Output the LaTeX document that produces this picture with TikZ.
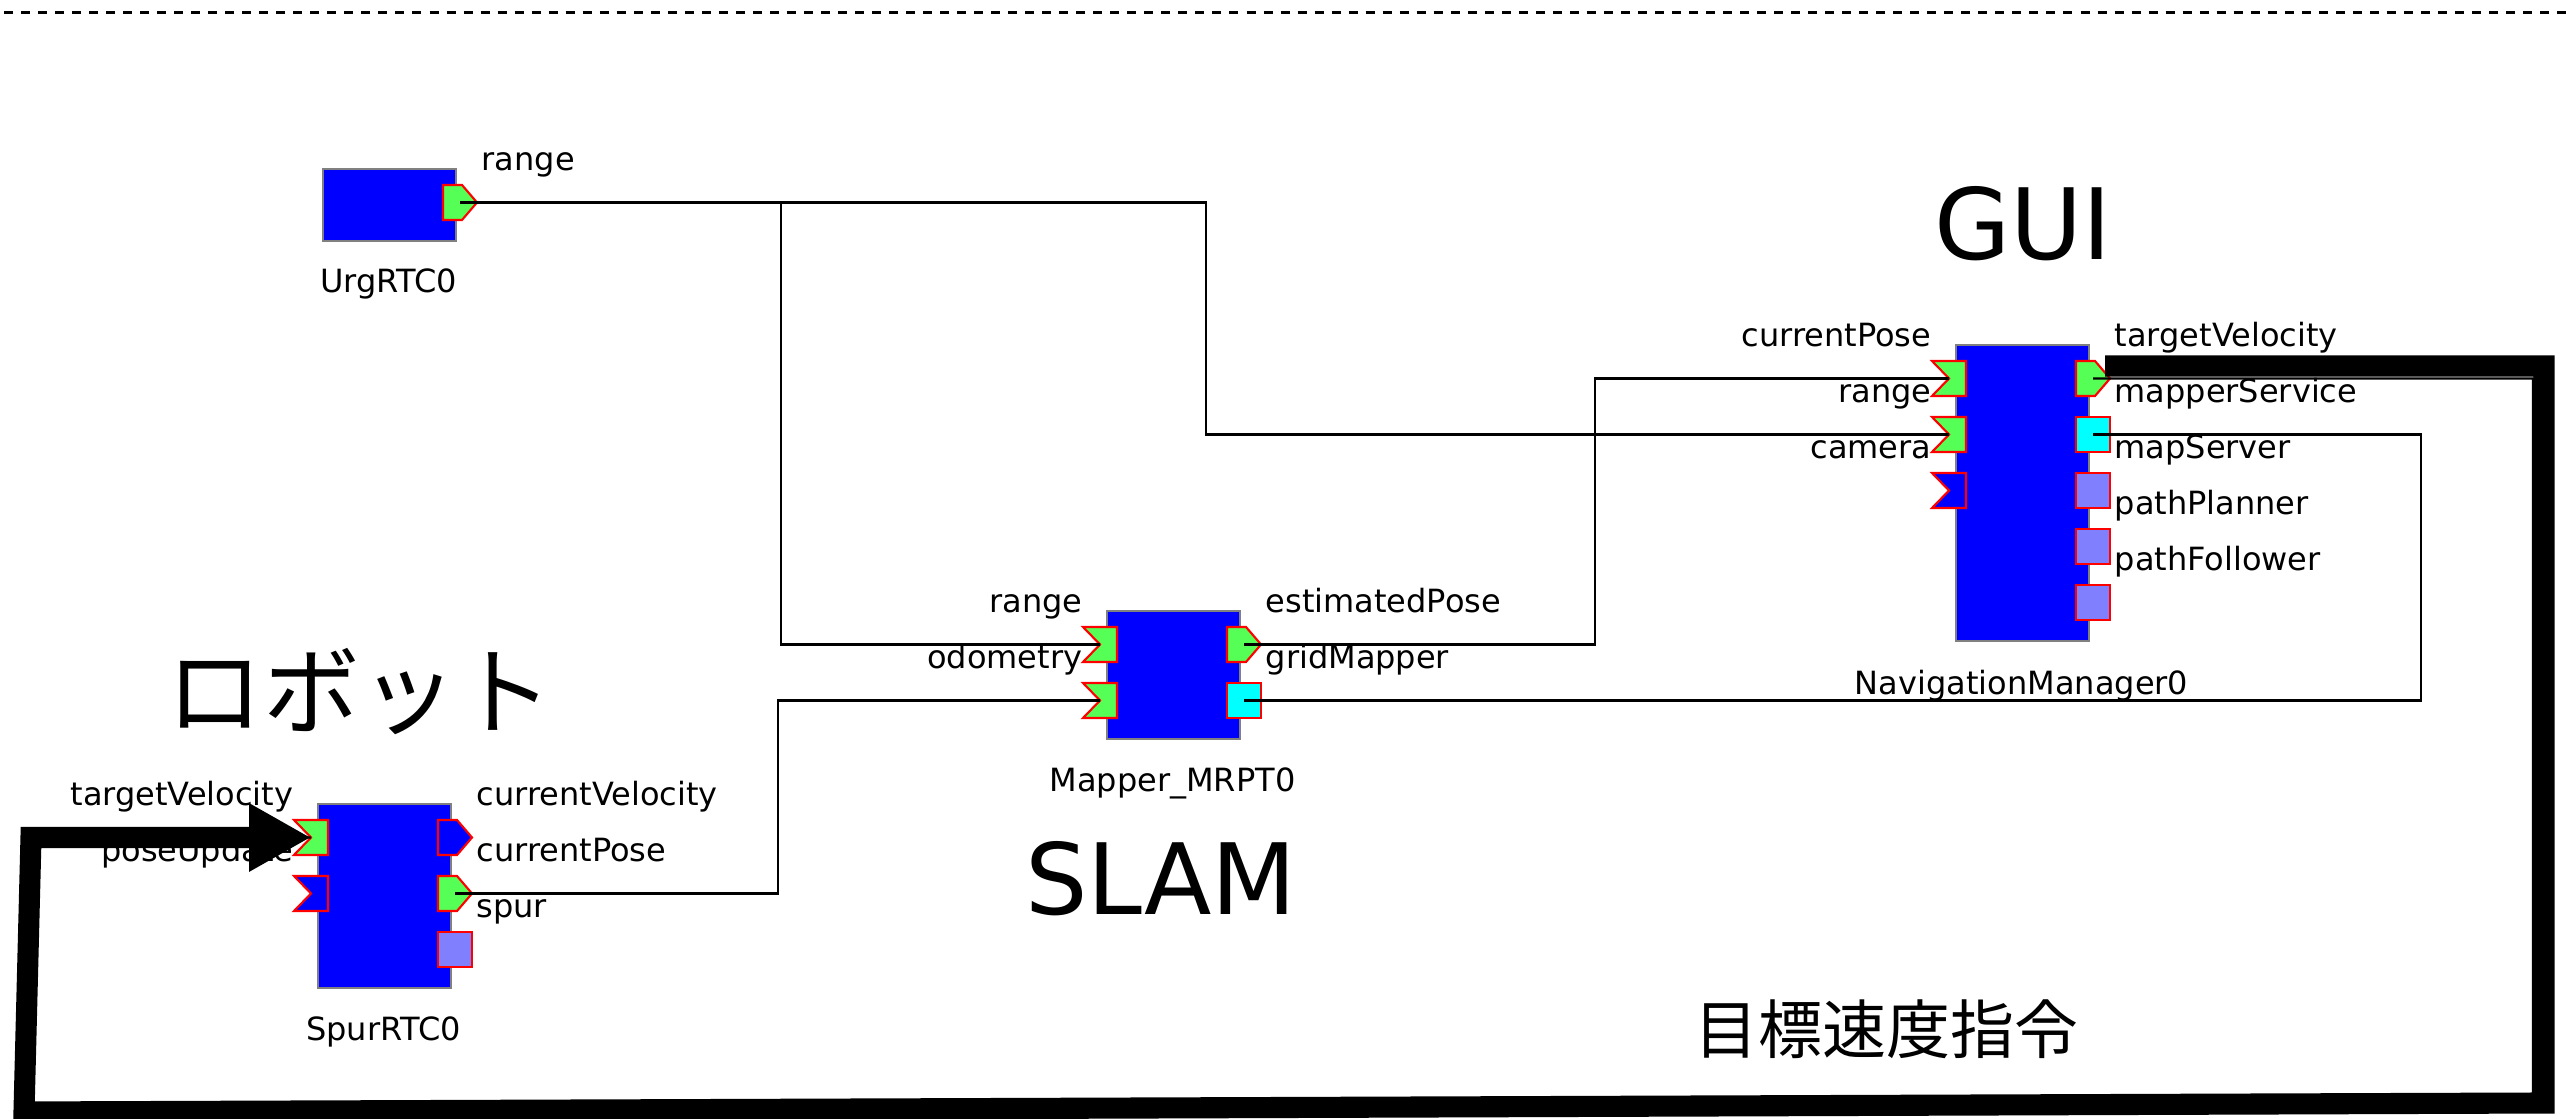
\documentclass[tikz,border=0pt]{standalone}
\usepackage{fontspec}
\setmainfont{DejaVu Sans}
\newfontfamily\jpfont{Noto Sans CJK JP}
\usepackage{tikz}
\usetikzlibrary{arrows.meta}
\definecolor{rtcBlue}{HTML}{0000FF}
\definecolor{portGreen}{HTML}{55FF55}
\definecolor{portCyan}{HTML}{00FFFF}
\definecolor{portLilac}{HTML}{8080FF}
\definecolor{portRed}{HTML}{FF0000}
\definecolor{frameGray}{HTML}{808080}

\tikzset{
  rtcblock/.style={draw=frameGray, line width=0.6pt, fill=rtcBlue, minimum width=1.33cm, inner sep=0pt, anchor=north west},
  portline/.style={draw=portRed, line width=0.6pt},
  plabel/.style={inner sep=0pt, font=\fontsize{9.1pt}{11pt}\selectfont},
  biglabel/.style={inner sep=0pt, font=\fontsize{28pt}{32pt}\selectfont},
  wire/.style={line width=0.6pt},
  divider/.style={line width=0.85pt, dash pattern=on 2.56pt off 2.28pt},
  cmdarrow/.style={line width=6pt, -{Triangle[length=17.6pt,width=18.2pt]}},
}

% ports: name, left x, centre y, fill, label
\newcommand{\inport}[5]{%
  \filldraw[portline, fill=#4] (#2,#3-17.5) -- ++(34,0) -- ++(0,35) -- ++(-34,0) -- ++(17,-17.5) -- cycle;
  \coordinate (#1) at (#2+17,#3);
  \node[plabel, anchor=base east] (#1-lbl) at (#2,#3-32) {#5};}
\newcommand{\outport}[5]{%
  \filldraw[portline, fill=#4] (#2,#3-17.5) -- ++(19,0) -- ++(15,17.5) -- ++(-15,17.5) -- ++(-19,0) -- cycle;
  \coordinate (#1) at (#2+17,#3);
  \node[plabel, anchor=base west] (#1-lbl) at (#2+38,#3-32) {#5};}
\newcommand{\svcport}[5]{%
  \filldraw[portline, fill=#4] (#2,#3-17.5) rectangle ++(34,35);
  \coordinate (#1) at (#2+17,#3);
  \node[plabel, anchor=base west] (#1-lbl) at (#2+38,#3-32) {#5};}

\begin{document}
\begin{tikzpicture}[x=0.01cm, y=-0.01cm]
  \useasboundingbox (0,0) rectangle (2566,1119);
  \draw[divider] (4,13) -- (2566,13);

  % UrgRTC0
  \node[rtcblock, minimum height=0.72cm] (urg) at (322,168) {};
  \node[plabel, anchor=base] (urg-name) at (388.5,293) {UrgRTC0};
  \outport{urg-o1}{443}{202.5}{portGreen}{range}

  % Mapper_MRPT0
  \node[rtcblock, minimum height=1.28cm] (mapper) at (1106,610) {};
  \node[plabel, anchor=base] (mapper-name) at (1172.5,791) {Mapper\_MRPT0};
  \inport{map-i1}{1083}{644.5}{portGreen}{range}
  \inport{map-i2}{1083}{700.5}{portGreen}{odometry}
  \outport{map-o1}{1227}{644.5}{portGreen}{estimatedPose}
  \svcport{map-o2}{1227}{700.5}{portCyan}{gridMapper}

  % NavigationManager0
  \node[rtcblock, minimum height=2.96cm] (nav) at (1955,344) {};
  \node[plabel, anchor=base] (nav-name) at (2021.5,695) {NavigationManager0};
  \inport{nav-i1}{1932}{378.5}{portGreen}{currentPose}
  \inport{nav-i2}{1932}{434.5}{portGreen}{range}
  \inport{nav-i3}{1932}{490.5}{rtcBlue}{camera}
  \outport{nav-o1}{2076}{378.5}{portGreen}{targetVelocity}
  \svcport{nav-o2}{2076}{434.5}{portCyan}{mapperService}
  \svcport{nav-o3}{2076}{490.5}{portLilac}{mapServer}
  \svcport{nav-o4}{2076}{546.5}{portLilac}{pathPlanner}
  \svcport{nav-o5}{2076}{602.5}{portLilac}{pathFollower}

  % SpurRTC0
  \node[rtcblock, minimum height=1.84cm] (spur) at (317,803) {};
  \node[plabel, anchor=base] (spur-name) at (383.5,1040) {SpurRTC0};
  \inport{spur-i1}{294}{837.5}{portGreen}{targetVelocity}
  \inport{spur-i2}{294}{893.5}{rtcBlue}{poseUpdate}
  \outport{spur-o1}{438}{837.5}{rtcBlue}{currentVelocity}
  \outport{spur-o2}{438}{893.5}{portGreen}{currentPose}
  \svcport{spur-o3}{438}{949.5}{portLilac}{spur}

  % connectors
  \coordinate (range-split) at (781,202.5);
  \draw[wire] (urg-o1) -- (1206,202.5) |- (nav-i2);
  \draw[wire] (range-split) |- (map-i1);
  \draw[wire] (map-o1) -- ++(351,0) |- (nav-i1);
  \draw[wire] (spur-o2) -- ++(323,0) |- (map-i2);
  \draw[wire] (map-o2) -- ++(1177,0) |- (nav-o2);
  \draw[wire] (nav-o1) -- (2533,378.5) -- (2533,1096) -- (30,1105) -- (30,837.5) -- (spur-i1);

  % group labels
  \node[biglabel, anchor=base] (gui-lbl) at (2023,260) {GUI};
  \node[biglabel, anchor=base] (slam-lbl) at (1161,915) {SLAM};
  \node[biglabel, font=\fontsize{27.5pt}{32pt}\selectfont\jpfont] (robot-lbl) at (360,692) {ロボット};
  \node[biglabel, font=\fontsize{18.2pt}{22pt}\selectfont\jpfont] (cmd-lbl) at (1886,1029) {目標速度指令};

  % velocity command loop
  \coordinate (cmd-start) at (2105,366);
  \draw[cmdarrow] (cmd-start) -- (2544,366) -- (2544,1103) -- (24,1112) -- (31,837.5) -- (spur-i1);
\end{tikzpicture}
\end{document}
